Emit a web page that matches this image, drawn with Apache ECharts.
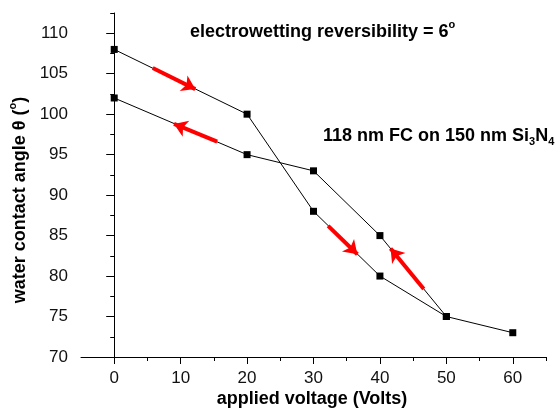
<!DOCTYPE html>
<html>
<head>
<meta charset="utf-8">
<script src="https://cdn.jsdelivr.net/npm/echarts@6/dist/echarts.min.js"></script>
<style>html,body{margin:0;padding:0;background:#fff}#c{width:558px;height:412px}</style>
</head>
<body>
<div id="c"></div>
<script>
// forward sweep (increasing voltage)
const voltsForward = [0, 20, 30, 40, 50, 60];
const angleForward = [108, 100, 88, 80, 75, 73];
// reverse sweep (decreasing voltage)
const voltsBackward = [50, 40, 30, 20, 0];
const angleBackward = [75, 85, 93, 95, 102];
// direction arrows: [startVolt, startAngle, endVolt, endAngle]
const arrowSegments = [
  [5.8, 105.7, 12.2, 103.1],
  [15.5, 96.6, 9.0, 98.8],
  [32.2, 86.2, 36.6, 82.7],
  [46.6, 78.4, 41.6, 83.4]
];
// tick labels
const xMajorTicks = [0, 10, 20, 30, 40, 50, 60];
const xMinorTicks = [5, 15, 25, 35, 45, 55, 65];
const yMajorTicks = [70, 75, 80, 85, 90, 95, 100, 105, 110];
const yMinorTicks = [72.5, 77.5, 82.5, 87.5, 92.5, 97.5, 102.5, 107.5, 112.5];
const xRange = [-5, 65];
const yRange = [70, 112.5];

const chart = echarts.init(document.getElementById('c'));
const font = 'Arial, "Liberation Sans", sans-serif';
const axisCommon = {
  type: 'value', splitLine: {show: false}
};
const bold = {fontSize: 18, fontWeight: 'bold', fontFamily: font, fill: '#000', lineHeight: 22};
const sup = {fontSize: 11, fontWeight: 'bold', fontFamily: font, fill: '#000', lineHeight: 22};
chart.setOption({
  animation: false,
  backgroundColor: '#fff',
  grid: {left: 81, right: 12, top: 13, bottom: 55, outerBoundsMode: 'none'},
  xAxis: [
    Object.assign({}, axisCommon, {
      min: xRange[0], max: xRange[1], position: 'bottom',
      axisLine: {show: true, lineStyle: {color: '#000', width: 1}},
      axisTick: {show: true, inside: false, length: 7, customValues: xMajorTicks, lineStyle: {color: '#000'}},
      axisLabel: {customValues: xMajorTicks, margin: 13, fontSize: 17, color: '#111', fontFamily: font}
    }),
    Object.assign({}, axisCommon, {
      min: xRange[0], max: xRange[1], position: 'bottom', offset: 0,
      axisLine: {show: false},
      axisTick: {show: true, inside: false, length: 4, customValues: xMinorTicks, lineStyle: {color: '#000'}},
      axisLabel: {show: false}
    })
  ],
  yAxis: [
    Object.assign({}, axisCommon, {
      min: yRange[0], max: yRange[1], position: 'left',
      axisLine: {show: true, lineStyle: {color: '#000', width: 1}},
      axisTick: {show: true, inside: false, length: 8, customValues: yMajorTicks, lineStyle: {color: '#000'}},
      axisLabel: {customValues: yMajorTicks, margin: 13, fontSize: 17, color: '#111', fontFamily: font}
    }),
    Object.assign({}, axisCommon, {
      min: yRange[0], max: yRange[1], position: 'left', offset: 0,
      axisLine: {show: false},
      axisTick: {show: true, inside: false, length: 4, customValues: yMinorTicks, lineStyle: {color: '#000'}},
      axisLabel: {show: false}
    })
  ],
  series: [
    {
      type: 'line', xAxisIndex: 0, yAxisIndex: 0,
      data: voltsForward.map((v, i) => [v, angleForward[i]]),
      symbol: 'rect', symbolSize: 7,
      itemStyle: {color: '#000'}, lineStyle: {color: '#000', width: 1}
    },
    {
      type: 'line', xAxisIndex: 0, yAxisIndex: 0,
      data: voltsBackward.map((v, i) => [v, angleBackward[i]]),
      symbol: 'rect', symbolSize: 7,
      itemStyle: {color: '#000'}, lineStyle: {color: '#000', width: 1}
    },
    {
      type: 'lines', coordinateSystem: 'cartesian2d', xAxisIndex: 0, yAxisIndex: 0,
      symbol: ['none', 'arrow'], symbolSize: [9, 13],
      lineStyle: {color: '#ff0000', width: 4, opacity: 1},
      data: arrowSegments.map(a => ({coords: [[a[0], a[1]], [a[2], a[3]]]})),
      z: 5
    }
  ],
  graphic: [
    {
      type: 'text', x: 190, y: 30,
      style: {
        text: '{b|electrowetting reversibility = 6}{s|o}',
        align: 'left', verticalAlign: 'middle',
        rich: {
          b: Object.assign({}, bold, {verticalAlign: 'bottom'}),
          s: Object.assign({}, sup, {verticalAlign: 'top'})
        }
      }
    },
    {
      type: 'text', x: 323, y: 136,
      style: {
        text: '{b|118 nm FC on 150 nm Si}{s|3}{b|N}{s|4}',
        align: 'left', verticalAlign: 'middle',
        rich: {
          b: Object.assign({}, bold, {verticalAlign: 'middle'}),
          s: Object.assign({}, sup, {verticalAlign: 'bottom'})
        }
      }
    },
    {
      type: 'text', x: 18, y: 200, rotation: Math.PI / 2,
      style: {
        text: '{b|water contact angle θ (}{s|o}{b|)}',
        align: 'center', verticalAlign: 'middle',
        rich: {
          b: Object.assign({}, bold, {verticalAlign: 'bottom'}),
          s: Object.assign({}, sup, {verticalAlign: 'top'})
        }
      }
    },
    {
      type: 'text', x: 312, y: 399,
      style: {
        text: 'applied voltage (Volts)', align: 'center', verticalAlign: 'middle',
        font: 'bold 18px ' + font, fill: '#000'
      }
    }
  ]
});
</script>
</body>
</html>
